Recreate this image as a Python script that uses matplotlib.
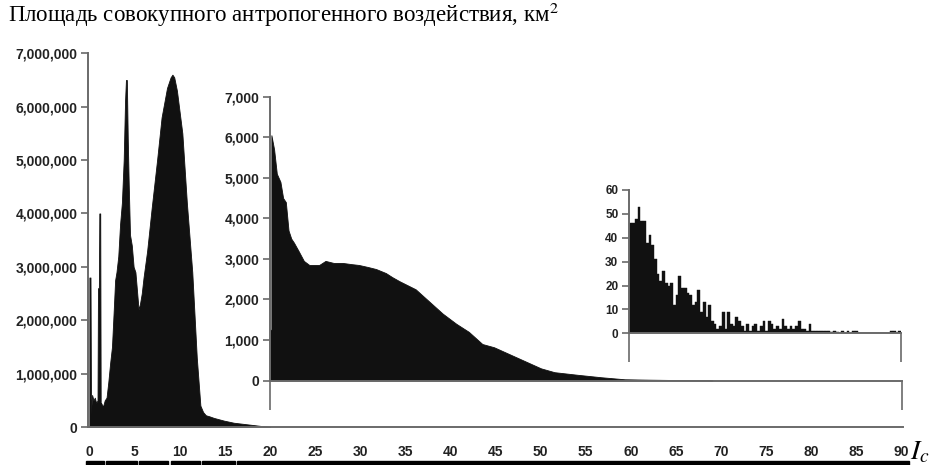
import numpy as np
import matplotlib
matplotlib.use("Agg")
import matplotlib.pyplot as plt
from matplotlib.ticker import FuncFormatter

# --- data ---
# main histogram outline, I_c 0..20, area in millions of km2
main_x = [0.0, 0.0, 0.12, 0.18, 0.3, 0.45, 0.6, 0.75, 0.9, 0.95, 1.05, 1.1, 1.2, 1.25, 1.3,
          1.5, 1.7, 1.9, 2.1, 2.3, 2.5, 2.7, 2.85, 3.0, 3.2, 3.4, 3.6, 3.8, 3.95, 4.05, 4.15,
          4.25, 4.35, 4.5, 4.7, 4.9, 5.1, 5.3, 5.45, 5.6, 5.8, 6.0, 6.4, 6.9, 7.5, 8.0, 8.6,
          9.0, 9.2, 9.4, 9.7, 10.0, 10.3, 10.8, 11.4, 11.9, 12.3, 12.6, 12.9, 13.3, 13.8,
          14.9, 16.0, 17.5, 19.0, 20.0]
main_y = [0, 2.8, 2.8, 0.25, 0.6, 0.5, 0.55, 0.45, 0.5, 2.6, 2.6, 4.0, 4.0, 0.45, 0.45,
          0.38, 0.5, 0.55, 0.85, 1.2, 1.5, 2.2, 2.75, 2.9, 3.2, 3.8, 4.2, 5.0, 6.1, 6.5, 6.5,
          5.4, 4.6, 3.6, 3.4, 3.0, 2.9, 2.5, 2.2, 2.3, 2.5, 2.8, 3.3, 4.1, 5.0, 5.8, 6.35,
          6.55, 6.6, 6.55, 6.3, 5.9, 5.5, 4.2, 2.9, 1.3, 0.4, 0.28, 0.22, 0.2, 0.17,
          0.12, 0.08, 0.05, 0.02, 0.006]

# inset 1, I_c 20..90, km2
mid_x = [20.0, 20.0, 20.1, 20.1, 20.4, 20.7, 21.1, 21.4, 21.7, 22.0, 22.3, 22.6, 23.1, 23.7,
         24.3, 25.4, 26.1, 27.0, 28.0, 29.0, 29.8, 30.8, 31.7, 32.8, 33.5, 34.3, 35.2, 36.1,
         37.6, 39.1, 40.6, 42.0, 43.5, 44.8, 46.0, 47.2, 48.5, 50.0, 51.5, 54.1, 56.7, 59.3,
         62.0, 65.0, 68.5, 69.0]
mid_y = [0, 1250, 1250, 6050, 5700, 5100, 4900, 4500, 4400, 3700, 3500, 3400, 3200, 2950,
         2850, 2850, 2950, 2900, 2900, 2870, 2850, 2800, 2750, 2650, 2550, 2450, 2350, 2250,
         1950, 1650, 1400, 1200, 900, 820, 700, 580, 450, 300, 205, 140, 80, 30,
         20, 12, 5, 0]

# inset 2, I_c 60..90, bins of 0.3, km2
tail_start, tail_bin = 60.0, 0.3
tail_y = [46, 46, 48, 53, 47, 47, 38, 41, 37, 31, 25, 22, 26, 21, 20, 21, 12, 16, 24, 19,
          19, 17, 16, 12, 13, 18, 9, 13, 7, 12, 5, 4, 2, 3, 9, 2, 9, 4, 3, 7,
          5, 3, 1, 4, 1, 3, 4, 1, 3, 5, 1, 5, 4, 2, 3, 2, 6, 3, 2, 3,
          2, 3, 5, 2, 2, 1, 4, 1, 1, 1, 1, 1, 1, 1, 0.5, 1, 0.5, 0, 1, 0,
          1, 0, 1, 1, 0, 0, 0, 0, 0, 0, 0, 0, 0, 0, 0, 0, 1, 1, 0, 1]

# class bar under the x axis
class_breaks = [(-0.4, 1.6), (1.85, 5.25), (5.55, 8.75), (9.0, 12.25), (12.5, 16.15), (16.4, 90.8)]

main_ticks = np.arange(0, 7000001, 1000000)
mid_ticks = np.arange(0, 7001, 1000)
tail_ticks = np.arange(0, 61, 10)
x_ticks = np.arange(0, 91, 5)

DARK = "#111111"
AXC = "#6a6a6a"
W, H = 937, 465

plt.rcParams["font.family"] = ["Liberation Sans", "DejaVu Sans"]
plt.rcParams["mathtext.fontset"] = "stix"

fig = plt.figure(figsize=(W / 100, H / 100), dpi=100)


def rect(left, right, bottom, top):
    return [left / W, 1 - bottom / H, (right - left) / W, (bottom - top) / H]


def style(ax, size, fmt):
    for s in ("top", "right"):
        ax.spines[s].set_visible(False)
    for s in ("left", "bottom"):
        ax.spines[s].set_color(AXC)
        ax.spines[s].set_linewidth(1.4)
    ax.yaxis.set_major_formatter(FuncFormatter(fmt))
    ax.tick_params(axis="y", length=5, width=1.2, color=AXC, pad=3,
                   labelsize=size, labelcolor="#222222")
    for t in ax.get_yticklabels():
        t.set_fontweight("bold")
    ax.set_facecolor("none")


# main axes
ax = fig.add_axes(rect(88.5, 903.3, 427, 53.3))
ax.fill_between(main_x, main_y, 0, color=DARK, lw=0.6, edgecolor=DARK)
ax.set_xlim(-0.1, 90.2)
ax.set_ylim(0, 7)
ax.set_yticks(main_ticks / 1e6)
style(ax, 10, lambda v, p: f"{int(round(v * 1e6)):,}")
ax.set_xticks(x_ticks)
ax.set_xticklabels([str(v) for v in x_ticks], fontweight="bold", fontsize=10, color="#222222")
ax.tick_params(axis="x", length=0, pad=13)
for a, b in class_breaks:
    ax.add_patch(plt.Rectangle((a, -0.64), b - a, -0.2, color="black", clip_on=False))

# inset 1
ax1 = fig.add_axes(rect(270.5, 901.5, 380.5, 96.7))
ax1.fill_between(mid_x, mid_y, 0, color=DARK, lw=0.6, edgecolor=DARK)
ax1.set_xlim(20, 90)
ax1.set_ylim(0, 7000)
ax1.set_yticks(mid_ticks)
style(ax1, 10, lambda v, p: f"{int(v):,}")
ax1.set_xticks([20, 90])
ax1.set_xticklabels([])
ax1.tick_params(axis="x", length=21, width=1.2, color=AXC)

# inset 2
ax2 = fig.add_axes(rect(629.5, 901.0, 333.3, 190))
centers = tail_start + tail_bin * (np.arange(len(tail_y)) + 0.5)
ax2.bar(centers, tail_y, width=tail_bin, color=DARK, edgecolor=DARK, lw=0.3)
ax2.set_xlim(60, 90)
ax2.set_ylim(0, 60)
ax2.set_yticks(tail_ticks)
style(ax2, 8.5, lambda v, p: f"{int(v):,}")
ax2.set_xticks([60, 90])
ax2.set_xticklabels([])
ax2.tick_params(axis="x", length=21, width=1.2, color=AXC)

fig.text(8 / W, 1 - 15 / H, "Площадь совокупного антропогенного воздействия, км$^{2}$",
         family=["Liberation Serif", "DejaVu Serif"], fontsize=16.5, ha="left", va="center")
fig.text(910 / W, 1 - 452 / H, r"$I_c$", fontsize=20, ha="left", va="center")

fig.savefig("out.png", dpi=100)
